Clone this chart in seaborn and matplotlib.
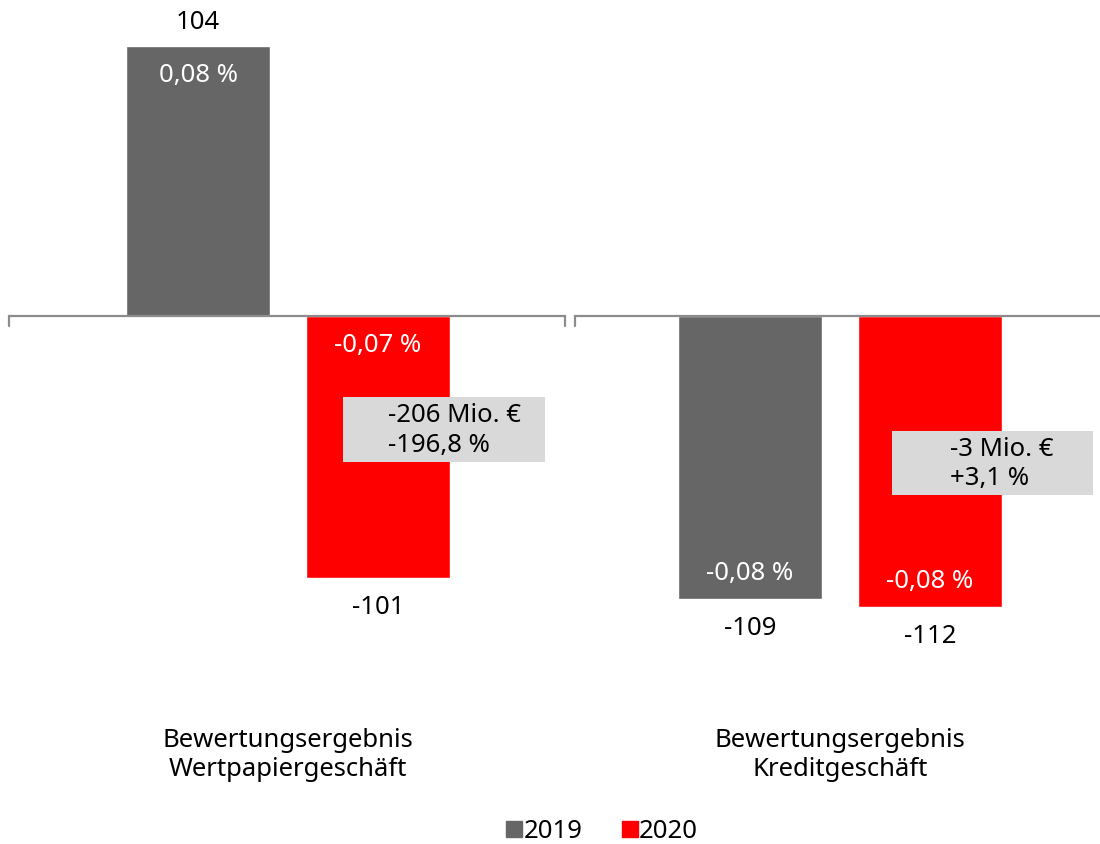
"""Bewertungsergebnis 2019 vs 2020: grouped bars with value and change labels."""

import matplotlib.pyplot as plt
from matplotlib.lines import Line2D
from matplotlib.patches import Rectangle
import pandas as pd
import seaborn as sns

categories = ["Bewertungsergebnis\nWertpapiergeschäft", "Bewertungsergebnis\nKreditgeschäft"]
years = ["2019", "2020"]
values_2019 = [104, -109]
values_2020 = [-101, -112]
pct_2019 = ["0,08 %", "-0,08 %"]
pct_2020 = ["-0,07 %", "-0,08 %"]
changes = ["-206 Mio. €\n-196,8 %", "-3 Mio. €\n+3,1 %"]

GREY = '#666666'
RED = '#ff0000'
BOX = '#d9d9d9'
AXIS = '#8c8c8c'
FS = 18.5

sns.set_theme(style='white')
plt.rcParams['font.family'] = ['Noto Sans', 'DejaVu Sans']
plt.rcParams['text.color'] = 'black'

df = pd.DataFrame({
    'Kategorie': categories * 2,
    'Jahr': [years[0]] * 2 + [years[1]] * 2,
    'Wert': values_2019 + values_2020,
})

fig = plt.figure(figsize=(11, 8.45), dpi=100)
ax = fig.add_axes([0, 0, 1, 1])
sns.barplot(data=df, x='Kategorie', y='Wert', hue='Jahr', order=categories,
            hue_order=years, palette=[GREY, RED], width=0.652, gap=0.2,
            saturation=1, legend=False, ax=ax)
ax.set_xlim(-0.5217, 1.471)
ax.set_ylim(-203.4, 122.1)
ax.axis('off')

# ── zero line, one segment per category with end ticks ────────────────
tick = 3.9
for x0, x1 in [(-0.505, 0.502), (0.52, 1.53)]:
    ax.plot([x0, x0, x1, x1], [-tick, 0, 0, -tick], color=AXIS, lw=1.6,
            solid_joinstyle='miter', zorder=1)

# ── value labels outside, percentages inside ──────────────────────────
for container, pcts in zip(ax.containers, [pct_2019, pct_2020]):
    for bar, pct in zip(container, pcts):
        v = bar.get_height()
        xc = bar.get_x() + bar.get_width() / 2
        if v >= 0:
            ax.text(xc, v + 9.5, f'{v:.0f}', ha='center', va='center',
                    fontsize=FS, color='black')
            ax.text(xc, v - 11, pct, ha='center', va='center',
                    fontsize=FS, color='white')
        else:
            ax.text(xc, v - 11, f'{v:.0f}', ha='center', va='center',
                    fontsize=FS, color='black')
            if abs(v) > 105:
                ax.text(xc, v + 10, pct, ha='center', va='center',
                        fontsize=FS, color='white')
            else:
                ax.text(xc, -11, pct, ha='center', va='center',
                        fontsize=FS, color='white')

# ── change boxes ──────────────────────────────────────────────────────
boxes = [(0.0996, -56.2, 0.366, 25.0, 0.181), (1.094, -68.9, 0.364, 24.6, 1.199)]
for (bx, by, bw, bh, tx), txt in zip(boxes, changes):
    ax.add_patch(Rectangle((bx, by), bw, bh, facecolor=BOX, edgecolor='none', zorder=3))
    ax.text(tx, by + bh / 2, txt, ha='left', va='center', fontsize=FS,
            linespacing=1.25, color='black', zorder=4)

# ── category labels ───────────────────────────────────────────────────
for i, cat in enumerate(categories):
    ax.text(i, 1 - 755 / 845, cat, transform=ax.get_xaxis_transform(),
            ha='center', va='center', fontsize=FS, linespacing=1.25,
            color='black')

handles = [Line2D([], [], marker='s', linestyle='none', markersize=12,
                  markerfacecolor=c, markeredgecolor=c) for c in [GREY, RED]]
fig.legend(handles, years, loc='center', bbox_to_anchor=(0.548, 1 - 832 / 845),
           ncol=2, frameon=False, fontsize=FS, handlelength=0.5,
           handletextpad=0.1, columnspacing=1.6)

fig.savefig('out.png', dpi=100)
plt.close(fig)
